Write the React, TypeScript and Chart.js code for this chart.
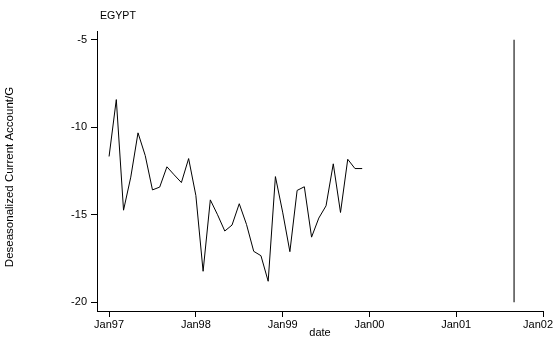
import React, { useEffect, useRef } from "react";
import { Chart, registerables } from "chart.js";

Chart.register(...registerables);

const chartTitle = "EGYPT";
const yTitle = "Deseasonalized Current Account/G";
const xTitle = "date";

const dates = [
  "1997-01", "1997-02", "1997-03", "1997-04", "1997-05", "1997-06",
  "1997-07", "1997-08", "1997-09", "1997-10", "1997-11", "1997-12",
  "1998-01", "1998-02", "1998-03", "1998-04", "1998-05", "1998-06",
  "1998-07", "1998-08", "1998-09", "1998-10", "1998-11", "1998-12",
  "1999-01", "1999-02", "1999-03", "1999-04", "1999-05", "1999-06",
  "1999-07", "1999-08", "1999-09", "1999-10", "1999-11", "1999-12",
];

const values = [
  -11.67, -8.42, -14.74, -12.85, -10.32, -11.62,
  -13.58, -13.42, -12.26, -12.72, -13.16, -11.79,
  -13.9, -18.23, -14.15, -15.0, -15.93, -15.59,
  -14.37, -15.55, -17.09, -17.34, -18.8, -12.82,
  -14.85, -17.11, -13.61, -13.4, -16.28, -15.19,
  -14.49, -12.09, -14.87, -11.83, -12.36, -12.36,
];

const markerDate = "2001-09";
const markerValues = [-5, -20];

const xTickDates = ["1997-01", "1998-01", "1999-01", "2000-01", "2001-01", "2002-01"];
const xTickLabels = ["Jan97", "Jan98", "Jan99", "Jan00", "Jan01", "Jan02"];
const yTicks = [-20, -15, -10, -5];

const baseYear = 1997;
const toMonth = (d: string) => {
  const [y, m] = d.split("-").map(Number);
  return (y - baseYear) * 12 + (m - 1);
};

const FONT = "'Liberation Sans', Arial, sans-serif";

export default function App() {
  const ref = useRef<HTMLCanvasElement | null>(null);

  useEffect(() => {
    if (!ref.current) return;
    const xTickVals = xTickDates.map(toMonth);

    const textPlugin = {
      id: "plainTexts",
      afterDraw(chart: any) {
        const ctx = chart.ctx;
        const area = chart.chartArea;
        ctx.save();
        ctx.fillStyle = "#000";
        // title
        ctx.font = `10.6px ${FONT}`;
        ctx.textBaseline = "middle";
        ctx.textAlign = "left";
        ctx.fillText(chartTitle, area.left + 3, 16);
        // x tick labels (kept inside the canvas)
        const xs = chart.scales.x;
        ctx.font = `11px ${FONT}`;
        ctx.textBaseline = "top";
        ctx.textAlign = "left";
        xTickVals.forEach((v, i) => {
          const px = xs.getPixelForValue(v);
          const w = ctx.measureText(xTickLabels[i]).width;
          let left = px - w / 2;
          if (left + w > chart.width - 2) left = chart.width - 2 - w;
          ctx.fillText(xTickLabels[i], left, area.bottom + 8);
        });
        // y title
        ctx.font = `11.5px ${FONT}`;
        ctx.textAlign = "center";
        ctx.textBaseline = "middle";
        ctx.translate(10, (area.top + area.bottom) / 2 + 6);
        ctx.rotate(-Math.PI / 2);
        ctx.fillText(yTitle, 0, 0);
        ctx.restore();
      },
    };

    const chart = new Chart(ref.current, {
      type: "line",
      data: {
        datasets: [
          {
            data: dates.map((d, i) => ({ x: toMonth(d), y: values[i] })),
            borderColor: "#000",
            borderWidth: 1,
            pointRadius: 0,
            tension: 0,
            fill: false,
          },
          {
            data: markerValues.map((v) => ({ x: toMonth(markerDate), y: v })),
            borderColor: "#333",
            borderWidth: 1.3,
            pointRadius: 0,
            fill: false,
          },
        ],
      },
      plugins: [textPlugin],
      options: {
        responsive: false,
        animation: false,
        events: [],
        layout: { padding: { left: 0, right: 12, top: 31, bottom: 0 } },
        plugins: {
          legend: { display: false },
          title: { display: false },
          tooltip: { enabled: false },
        },
        scales: {
          x: {
            type: "linear",
            min: -1.67,
            max: 60,
            border: { display: true, color: "#000", width: 1 },
            grid: {
              display: true,
              drawOnChartArea: false,
              drawTicks: true,
              tickLength: 6,
              color: "#000",
            },
            afterBuildTicks: (scale: any) => {
              scale.ticks = xTickVals.map((v) => ({ value: v }));
            },
            afterFit: (scale: any) => {
              scale.height = 28;
              scale.paddingLeft = 0;
              scale.paddingRight = 0;
            },
            ticks: {
              autoSkip: false,
              maxRotation: 0,
              padding: 2,
              color: "rgba(0,0,0,0)",
              font: { family: FONT, size: 11 },
              callback: () => "",
            },
            title: {
              display: true,
              text: xTitle,
              color: "#000",
              font: { family: FONT, size: 11, lineHeight: 1.1 },
              padding: { top: 0, bottom: 0 },
            },
          },
          y: {
            type: "linear",
            min: -20.5,
            max: -4.5,
            border: { display: true, color: "#000", width: 1 },
            grid: {
              display: true,
              drawOnChartArea: false,
              drawTicks: true,
              tickLength: 6,
              color: "#000",
            },
            afterBuildTicks: (scale: any) => {
              scale.ticks = yTicks.map((v) => ({ value: v }));
            },
            afterFit: (scale: any) => {
              scale.width = 97;
            },
            ticks: {
              padding: 4,
              color: "#000",
              font: { family: FONT, size: 11 },
              callback: (v: any) => String(v),
            },
            title: { display: false },
          },
        },
      },
    });

    return () => chart.destroy();
  }, []);

  return (
    <div style={{ position: "absolute", left: 0, top: 0, width: 555, height: 339, background: "#fff" }}>
      <canvas ref={ref} width={555} height={339} style={{ display: "block" }} />
    </div>
  );
}
